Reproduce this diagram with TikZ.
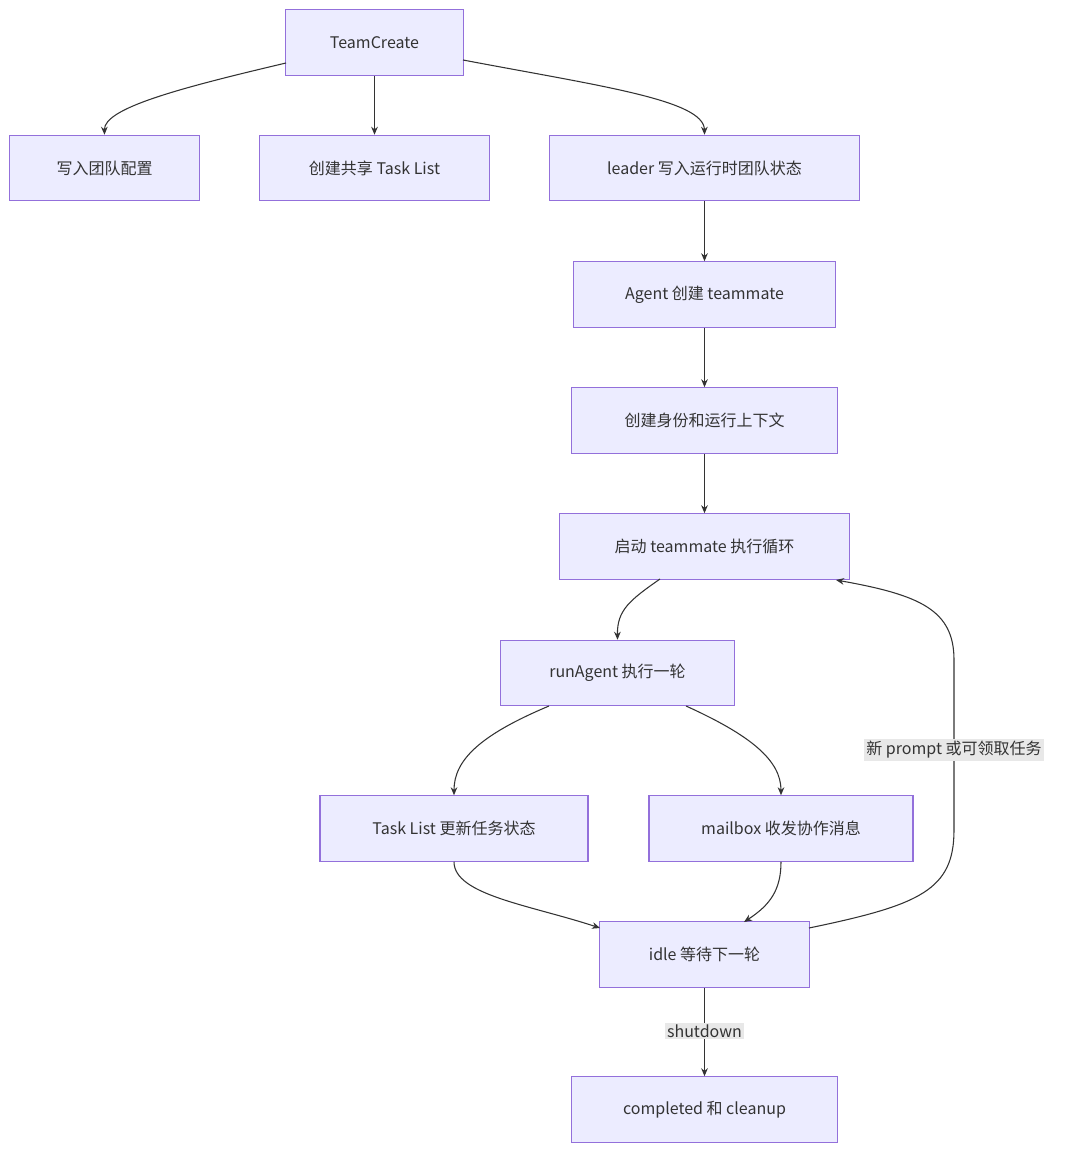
\documentclass[tikz,border=0pt]{standalone}
\usepackage{fontspec}
\setmainfont{Noto Sans CJK SC}
\usetikzlibrary{arrows.meta,positioning}
\definecolor{boxfill}{HTML}{ECECFF}
\definecolor{boxline}{HTML}{9370DB}
\definecolor{ink}{HTML}{333333}
\definecolor{lblbg}{HTML}{E8E8E8}
\begin{document}
\begin{tikzpicture}[x=0.75pt,y=-0.75pt,
  box/.style={draw=boxline,fill=boxfill,line width=0.9pt,text=ink,inner sep=0pt,
    minimum height=49pt,font=\fontsize{12}{14}\selectfont},
  edge/.style={draw=ink,line width=0.8pt,-{Stealth[length=6pt,width=5pt]}},
  lbl/.style={fill=lblbg,text=ink,inner sep=1.5pt,font=\fontsize{12}{14}\selectfont}]
        \useasboundingbox (0,0) rectangle (1080,1162);
        \node [box,minimum width=133pt] (team) at (374.5,42.5) {TeamCreate};
        \node [box,minimum width=142pt] (cfg) at (104.5,168) {写入团队配置};
        \node [box,minimum width=172pt] (list) at (374.5,168) {创建共享 Task List};
        \node [box,minimum width=232pt] (lead) at (704.5,168) {leader 写入运行时团队状态};
        \node [box,minimum width=197pt] (agent) at (704.5,294.5) {Agent 创建 teammate};
        \node [box,minimum width=200pt] (ctx) at (704.5,420.5) {创建身份和运行上下文};
        \node [box,minimum width=218pt] (loop) at (704.5,546.5) {启动 teammate 执行循环};
        \node [box,minimum width=176pt] (run) at (617.5,673) {runAgent 执行一轮};
        \node [box,minimum width=201pt] (upd) at (454,828.5) {Task List 更新任务状态};
        \node [box,minimum width=198pt] (mail) at (781,828.5) {mailbox 收发协作消息};
        \node [box,minimum width=157pt] (idle) at (704.5,954.5) {idle 等待下一轮};
        \node [box,minimum width=199pt] (done) at (704.5,1109.5) {completed 和 cleanup};
        % edges
        \draw [edge] (286,63) .. controls (180,88) and (104,108) .. (cfg.north);
        \draw [edge] (team) -- (list);
        \draw [edge] (463,60) .. controls (600,86) and (704,100) .. (lead.north);
        \draw [edge] (lead) -- (agent);
        \draw [edge] (agent) -- (ctx);
        \draw [edge] (ctx) -- (loop);
        \draw [edge] (660,579) .. controls (630,600) and (617,610) .. (run.north);
        \draw [edge] (549,706) .. controls (480,735) and (454,760) .. (upd.north);
        \draw [edge] (686,706) .. controls (750,735) and (781,760) .. (mail.north);
        \draw [edge] (upd.south) .. controls (454,895) and (530,905) .. (600,928);
        \draw [edge] (mail.south) .. controls (781,890) and (770,905) .. (744,922);
        \draw [edge] (809,928) .. controls (920,905) and (954,890) .. (954,830)
          -- (954,660) .. controls (954,610) and (920,595) .. (836,580);
        \node [lbl] (lp) at (954,750) {新 prompt 或可领取任务};
        \draw [edge] (idle) -- (done);
        \node [lbl] (ls) at (704.5,1031) {shutdown};
\end{tikzpicture}
\end{document}
